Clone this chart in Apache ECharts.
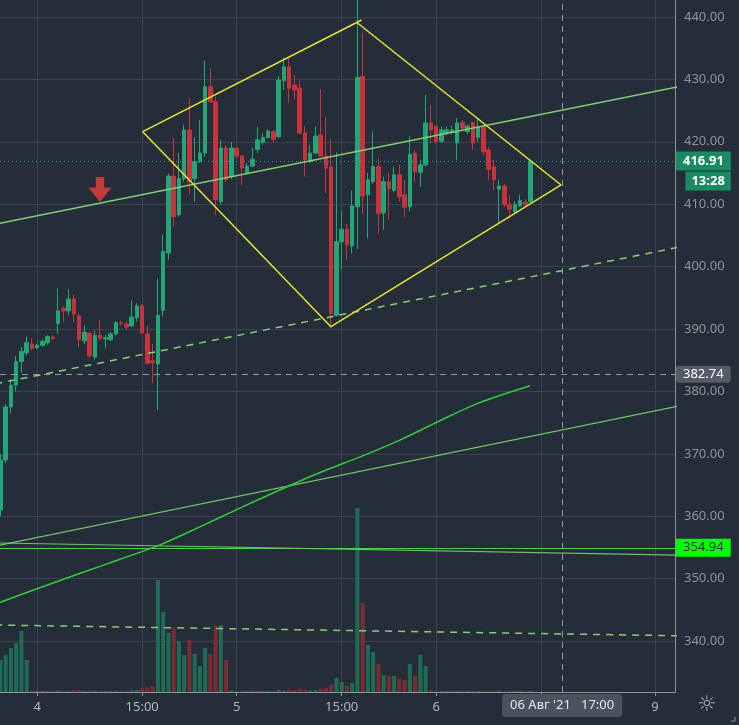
<!DOCTYPE html>
<html><head><meta charset="utf-8">
<script src="https://cdn.jsdelivr.net/npm/echarts@6/dist/echarts.min.js"></script>
<style>html,body{margin:0;padding:0;background:#252d38;}#c{width:739px;height:725px;}</style>
</head><body><div id="c"></div>
<script>
// ---------- data ----------
const FIRST_BAR = -1; // index of the first (partly visible) 30-minute bar
const opens  = [361,369,377.5,381,384.8,386.2,387.6,387.0,387.4,387.8,388.7,390.9,393.3,392.9,394.8,392.1,388.1,389.3,385.5,389.0,388.4,388.3,389.2,391.0,390.8,390.5,391.8,393.7,389.2,384.9,384.4,393.0,402.2,414.5,408.3,414.1,421.9,414.1,416.8,418.2,428.8,426.4,410.4,419.0,414.4,419.0,417.7,414.9,416.1,418.8,419.9,420.7,421.6,420.8,429.8,432.0,429.1,428.6,421.4,416.8,418.2,421.1,417.7,416.0,392.2,404.0,406.0,403.3,409.6,430.5,411.5,413.6,416.0,408.6,413.6,412.2,414.7,411.5,409.6,418.2,415.1,416.3,423.0,422.4,420.1,421.4,421.5,419.8,423.1,421.6,423.1,420.7,422.4,418.7,416.0,412.4,412.9,409.9,408.8,409.7,410.3,410.4];
const closes = [369,377.5,381,384.8,386.4,387.8,386.9,387.4,388.0,388.8,388.5,392.9,392.9,394.8,392.4,388.3,389.5,385.7,389.0,388.5,388.6,389.2,391.0,390.9,390.3,391.9,393.7,389.4,384.5,384.6,392.2,402.4,414.5,408.0,414.1,421.9,413.6,416.8,418.2,428.8,426.4,410.7,419.0,413.9,419.0,417.7,415.8,416.1,417.2,420.3,420.7,421.7,420.4,429.9,432.0,428.6,428.3,421.4,417.1,418.2,420.9,417.7,415.8,392.5,404.0,406.0,403.5,409.7,430.3,411.3,413.9,416.0,408.5,413.6,412.5,414.7,411.2,409.5,418.0,415.2,416.3,423.0,421.9,420.0,421.9,421.9,421.9,423.0,422.2,422.5,419.8,422.4,418.4,415.6,413.9,412.9,409.9,409.2,409.9,410.6,410.0,416.91];
const lows   = [360,368.5,376.5,380,383,385.8,386.6,386.8,387.2,387.5,388.2,389.2,391.2,392.2,391.1,387.1,387.6,385.3,385.1,388.2,386.9,388.0,389.0,390.5,389.9,390.3,391.2,389.2,384.4,381.4,377.0,392.0,401.1,406.4,408.0,413.6,411.5,410.4,416.6,417.6,426.2,408.3,410.0,413.6,414.0,417.3,413.1,414.7,415.9,418.2,419.5,420.5,419.9,420.6,428.3,426.2,426.8,421.2,414.4,416.6,418.0,417.6,411.8,390.1,392.0,399.5,401.1,402.1,402.8,408.5,404.5,413.3,405.3,405.9,407.5,411.9,410.4,408.0,408.8,413.6,412.8,416.0,419.8,419.7,419.8,421.0,421.2,417.1,421.8,421.2,418.7,420.0,417.8,413.9,412.3,406.9,409.6,407.6,408.6,409.6,409.6,410.2];
const highs  = [370,378,382,385.7,387.1,388.8,388.5,387.6,388.35,389.0,389.0,396.5,393.6,396.4,395.5,392.6,390.6,389.6,389.8,391.4,389.0,389.5,391.3,391.3,391.2,394.6,394.1,394.0,390.5,387.6,398.1,405.1,414.9,420.6,418.2,422.7,427.0,420.7,423.5,433.0,431.8,427.2,420.3,419.5,420.0,419.2,417.9,416.6,419.0,422.4,421.3,422.0,421.9,430.5,433.5,433.5,430.7,429.8,422.5,419.5,422.4,428.4,424.0,420.4,418.3,408.8,406.8,412.2,443.5,437.5,415.0,421.6,417.4,414.4,415.0,416.0,416.3,413.9,420.9,418.7,417.1,427.5,425.9,422.6,422.4,422.4,422.6,423.8,423.5,422.8,423.2,423.8,422.6,419.2,417.1,413.9,413.2,411.5,410.5,411.5,410.8,417.1];
const volumes = [32,37,44,49,61,32,1.5,1,1,1,1,1.5,1,1,1.5,2,1,1.5,1,1,1,1,1,1,1,1.5,2,4,4.5,6,112,80,59,64,51,37,52,38,26,44,38,66,67,32,1.5,1,1,1,1,1,1,1,1,2,1,2.5,2,3.5,2.5,1.5,2,3,4,7,14,10,6,9,184,89,47,40,28,17,16,16,13,12,28,16,37,26,2,1,1,1,1,1,1,1,1,1,1,1,1,1.5,1,1,1,1,0.5,1];

const priceTicks = [340,350,360,370,380,390,400,410,420,430,440];
const timeTickIndex = [6,26,44,64,82,102,123.7];
const timeTickText  = ['4','15:00','5','15:00','6','15:00','9'];

const crossIndex = 106, crossText = "06 Авг '21   17:00", crossPrice = 382.74;
const lastPrice = 416.91, countdown = '13:28', levelPrice = 354.94;

// drawings: [barIndex, price]
const trendMain       = [[-2,406.79],[130,429.15]];
const trendMainDashed = [[-2,381.20],[130,403.40]];
const trendLong       = [[-2,355.21],[130,377.98]];
const trendFlat       = [[-2,355.72],[130,353.74]];
const trendLowDashed  = [[-2,342.57],[130,340.82]];
const maIndex = [-2,6.5,14.2,21.4,29.4,37,44.6,52.2,59.9,67.5,75.1,82.7,90.3,99.9];
const maValue = [345.9,348.54,350.85,352.98,355.4,358.3,361.3,364.2,367.0,369.5,372.2,375.3,378.2,380.9];
const diamondLeft = [26.1,421.62], diamondTopA = [67.8,439.52], diamondTopB = [66.9,439.12];
const diamondRight = [105.8,413.08], diamondBottom = [61.96,390.37];
const arrowTip = [17.96,410.35];

// axis extents
const X_MIN = -1.086, X_MAX = 127.5, Y_MIN = 331.83, Y_MAX = 442.72, VOL_MAX = 692;

// ---------- chart ----------
const UP = '#22a677', DOWN = '#c8323f', UPV = '#1f6b55', DOWNV = '#7a2c35';
const candleData = opens.map((o,k)=>[FIRST_BAR+k, o, closes[k], lows[k], highs[k]]);
const volData = volumes.map((v,k)=>({value:[FIRST_BAR+k, v], itemStyle:{color: closes[k]>=opens[k]?UPV:DOWNV}}));
const maData = maIndex.map((x,k)=>[x, maValue[k]]);
const tickLabel = v => { let b=0; timeTickIndex.forEach((t,k)=>{ if(Math.abs(t-v)<Math.abs(timeTickIndex[b]-v)) b=k; }); return timeTickText[b]; };

function seg(data, color, width, type){
  return {type:'line', data, showSymbol:false, symbol:'none', silent:true, clip:true, z:5,
    lineStyle:{color, width, type: type||'solid'}, animation:false};
}

const chart = echarts.init(document.getElementById('c'));
chart.setOption({
  backgroundColor:'#252d38',
  animation:false,
  textStyle:{fontFamily:'Noto Sans, Roboto, sans-serif'},
  grid:{left:0, right:64, top:0, bottom:33},
  xAxis:{type:'value', min:X_MIN, max:X_MAX,
    axisLine:{show:true, onZero:false, lineStyle:{color:'#8d929b', width:1}},
    axisTick:{show:true, length:4, customValues:timeTickIndex, lineStyle:{color:'#8d929b'}},
    axisLabel:{customValues:timeTickIndex.filter((t,k)=>k!==5), formatter:tickLabel, color:'#b2b5be', fontSize:13, margin:9},
    splitLine:{show:true, lineStyle:{color:'#3a434f', width:1}},
    axisPointer:{show:true, status:'show', value:crossIndex, snap:false, triggerTooltip:false,
      lineStyle:{color:'#9599a2', type:[6,5], width:1},
      label:{show:true, formatter:()=>crossText, backgroundColor:'#4c525d', color:'#e3e5ea', fontSize:13, padding:[5,8,5,8], margin:2}}
  },
  yAxis:[{type:'value', position:'right', min:Y_MIN, max:Y_MAX, scale:true,
    axisLine:{show:true, onZero:false, lineStyle:{color:'#8d929b'}},
    axisTick:{show:false, customValues:priceTicks},
    axisLabel:{customValues:priceTicks, formatter:v=>v.toFixed(2), color:'#8e939c', fontSize:13, margin:9},
    splitLine:{show:true, lineStyle:{color:'#3a434f', width:1}},
    axisPointer:{show:true, status:'show', value:crossPrice, snap:false, triggerTooltip:false,
      lineStyle:{color:'#9599a2', type:[6,5], width:1},
      label:{show:true, formatter:()=>crossPrice.toFixed(2), backgroundColor:'#555b66', color:'#ffffff', fontSize:13, padding:[2,7,2,7], margin:1}}
  },{type:'value', min:0, max:VOL_MAX, show:false, axisLine:{show:false, onZero:false}, splitLine:{show:false}}],
  series:[
    {type:'bar', name:'volume', yAxisIndex:1, data:volData, barWidth:4, silent:true, z:1, animation:false},
    seg(trendLowDashed,'#86cf76',1.5,[7,6]),
    seg(trendFlat,'#6fbf6f',1.2),
    seg(trendLong,'#74c56c',1.2),
    {type:'line', data:maData, smooth:0.3, showSymbol:false, symbol:'none', silent:true, clip:true, z:5,
      lineStyle:{color:'#32cc3e', width:1.5}, animation:false},
    {type:'candlestick', name:'price', data:candleData, encode:{x:0, y:[1,2,3,4]}, barWidth:4, clip:true, z:3,
      itemStyle:{color:UP, color0:DOWN, borderColor:UP, borderColor0:DOWN, borderWidth:1},
      markLine:{silent:true, symbol:['none','none'], animation:false,
        data:[
          {yAxis:lastPrice, lineStyle:{color:'#26a69a', type:[1,3], width:1},
            label:{show:true, position:'end', distance:1, offset:[0,10],
              formatter:()=>`{p|${lastPrice.toFixed(2)}}\n{t|${countdown}}`,
              rich:{p:{backgroundColor:'#1a8a63', color:'#ffffff', fontSize:13, fontWeight:'bold', padding:[3,7,3,7], lineHeight:20},
                    t:{backgroundColor:'#1a8a63', color:'#ffffff', fontSize:13, fontWeight:'bold', padding:[3,6,3,6], lineHeight:20, align:'right'}}}},
          {yAxis:levelPrice, lineStyle:{color:'#45d445', type:'solid', width:1.2},
            label:{show:true, position:'end', distance:1, formatter:()=>levelPrice.toFixed(2),
              backgroundColor:'#00ff00', color:'#2a2e39', fontSize:13, padding:[3,7,2,7]}}
        ]}},
    seg(trendMainDashed,'#86cf76',1.5,[7,6]),
    seg(trendMain,'#86cf76',1.5),
    seg([diamondLeft, diamondTopA],'#e3e33a',1.5),
    seg([diamondTopB, diamondRight, diamondBottom, diamondLeft],'#e3e33a',1.5),
    {type:'scatter', data:[arrowTip], silent:true, z:6, animation:false,
      symbol:'path://M7,0 L15,0 L15,10 L22,10 L11,24 L0,10 L7,10 Z', symbolSize:[23,25], symbolOffset:[0,'-50%'],
      itemStyle:{color:'#e8403a'}}
  ],
  graphic:[
    {type:'text', left:697, top:694, style:{text:'☼', fill:'#a9adb5', fontSize:22, fontFamily:'DejaVu Sans'}},
    {type:'polyline', shape:{points:[[731,721],[735,721],[735,717]]}, style:{stroke:'#8d929b', fill:null, lineWidth:1}}
  ]
});
</script></body></html>
